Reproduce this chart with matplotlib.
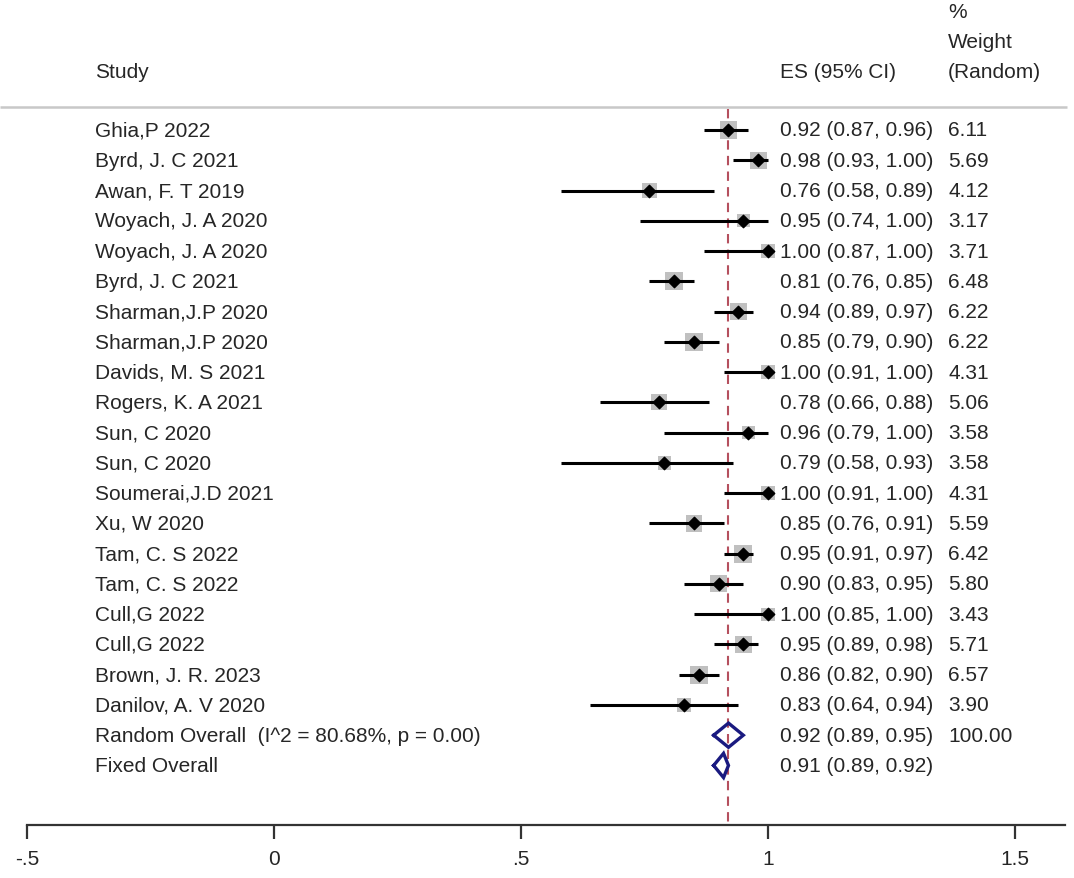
import matplotlib
matplotlib.use("Agg")
import matplotlib.pyplot as plt
import numpy as np

studies = ["Ghia,P 2022", "Byrd, J. C 2021", "Awan, F. T 2019", "Woyach, J. A 2020",
           "Woyach, J. A 2020", "Byrd, J. C 2021", "Sharman,J.P 2020", "Sharman,J.P 2020",
           "Davids, M. S 2021", "Rogers, K. A 2021", "Sun, C 2020", "Sun, C 2020",
           "Soumerai,J.D 2021", "Xu, W 2020", "Tam, C. S 2022", "Tam, C. S 2022",
           "Cull,G 2022", "Cull,G 2022", "Brown, J. R. 2023", "Danilov, A. V 2020"]
es = [0.92, 0.98, 0.76, 0.95, 1.00, 0.81, 0.94, 0.85, 1.00, 0.78,
      0.96, 0.79, 1.00, 0.85, 0.95, 0.90, 1.00, 0.95, 0.86, 0.83]
lo = [0.87, 0.93, 0.58, 0.74, 0.87, 0.76, 0.89, 0.79, 0.91, 0.66,
      0.79, 0.58, 0.91, 0.76, 0.91, 0.83, 0.85, 0.89, 0.82, 0.64]
hi = [0.96, 1.00, 0.89, 1.00, 1.00, 0.85, 0.97, 0.90, 1.00, 0.88,
      1.00, 0.93, 1.00, 0.91, 0.97, 0.95, 1.00, 0.98, 0.90, 0.94]
weights = [6.11, 5.69, 4.12, 3.17, 3.71, 6.48, 6.22, 6.22, 4.31, 5.06,
           3.58, 3.58, 4.31, 5.59, 6.42, 5.80, 3.43, 5.71, 6.57, 3.90]

overall_labels = ["Random Overall  (I^2 = 80.68%, p = 0.00)", "Fixed Overall"]
overall_es = [0.92, 0.91]
overall_lo = [0.89, 0.89]
overall_hi = [0.95, 0.92]
overall_w = ["100.00", ""]

xticks = [-0.5, 0, 0.5, 1, 1.5]
xticklabels = ["-.5", "0", ".5", "1", "1.5"]

plt.rcParams['font.family'] = ['Liberation Sans', 'DejaVu Sans']
FS = 15
TC = '#262626'

fig = plt.figure(figsize=(10.74, 8.79), dpi=100)
ax = fig.add_axes([0, 0, 1, 1])
# pixel mapping: x px = 274 + 494*x ; y px = 131 + 30.26*row
x0 = -274 / 494
x1 = (1074 - 274) / 494
ax.set_xlim(x0, x1)
ax.set_ylim((879 - 131) / 30.26, -131 / 30.26)

n = len(studies)
rows = np.arange(n)
xs_study = (95 - 274) / 494
xs_es = (780 - 274) / 494
xs_w = (948 - 274) / 494

# header
head_y = (72 - 131) / 30.26
ax.text(xs_study, head_y, "Study", fontsize=FS, color=TC, va='center', ha='left')
ax.text(xs_es, head_y, "ES (95% CI)", fontsize=FS, color=TC, va='center', ha='left')
ax.text(xs_w, (12 - 131) / 30.26, "%", fontsize=FS, color=TC, va='center', ha='left')
ax.text(xs_w, (42 - 131) / 30.26, "Weight", fontsize=FS, color=TC, va='center', ha='left')
ax.text(xs_w, head_y, "(Random)", fontsize=FS, color=TC, va='center', ha='left')
line_y = (108 - 131) / 30.26
ax.plot([x0, (1067 - 274) / 494], [line_y, line_y], color='#c8c8c8', lw=1.8, solid_capstyle='butt')

axis_row = (826 - 131) / 30.26
# overall dashed line
ax.plot([overall_es[0], overall_es[0]], [line_y + 0.05, axis_row], color='#b5505e',
        lw=1.5, ls=(0, (4.5, 3)), zorder=1)

# study rows
for i in range(n):
    side_px = 18.0 * np.sqrt(weights[i] / 6.5)
    ax.scatter([es[i]], [rows[i]], marker='s', s=(side_px * 0.72) ** 2,
               color='#c0c0c0', edgecolors='none', zorder=2)
    ax.plot([lo[i], hi[i]], [rows[i], rows[i]], color='black', lw=2.2, zorder=3,
            solid_capstyle='butt')
    ax.scatter([es[i]], [rows[i]], marker='D', s=40, color='black', zorder=4)
    ax.text(xs_study, rows[i], studies[i], fontsize=FS, color=TC, va='center', ha='left')
    ax.text(xs_es, rows[i], f"{es[i]:.2f} ({lo[i]:.2f}, {hi[i]:.2f})", fontsize=FS,
            color=TC, va='center', ha='left')
    ax.text(xs_w, rows[i], f"{weights[i]:.2f}", fontsize=FS, color=TC, va='center', ha='left')

# overall rows
for j in range(2):
    r = n + j
    h = 0.4
    dx = [overall_lo[j], overall_es[j], overall_hi[j], overall_es[j], overall_lo[j]]
    dy = [r, r - h, r, r + h, r]
    ax.plot(dx, dy, color='#1a1a80', lw=2.4, zorder=3, solid_joinstyle='miter')
    ax.text(xs_study, r, overall_labels[j], fontsize=FS, color=TC, va='center', ha='left')
    ax.text(xs_es, r, f"{overall_es[j]:.2f} ({overall_lo[j]:.2f}, {overall_hi[j]:.2f})",
            fontsize=FS, color=TC, va='center', ha='left')
    if overall_w[j]:
        ax.text(xs_w, r, overall_w[j], fontsize=FS, color=TC, va='center', ha='left')

# x axis
for s in ['top', 'left', 'right']:
    ax.spines[s].set_visible(False)
ax.spines['bottom'].set_position(('data', axis_row))
ax.spines['bottom'].set_bounds(-0.5, (1065 - 274) / 494)
ax.spines['bottom'].set_linewidth(1.6)
ax.spines['bottom'].set_color('#333333')
ax.set_yticks([])
ax.set_xticks(xticks)
ax.set_xticklabels(xticklabels)
ax.tick_params(axis='x', direction='out', length=10, width=1.6, color='#333333',
               labelsize=FS, labelcolor=TC, pad=7)
ax.set_facecolor('white')
fig.patch.set_facecolor('white')

fig.savefig("out.png", dpi=100, facecolor='white')
